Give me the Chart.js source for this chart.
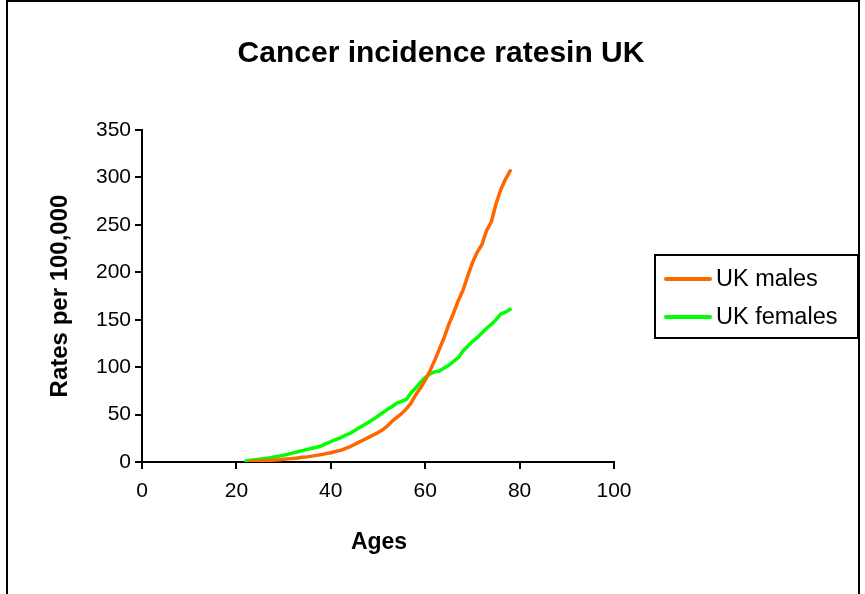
<!DOCTYPE html>
<html>
<head>
<meta charset="utf-8">
<script src="https://cdn.jsdelivr.net/npm/chart.js@4/dist/chart.umd.min.js"></script>
<style>
  html, body { margin: 0; padding: 0; background: #fff; }
  #wrap { width: 865px; height: 594px; position: relative; }
</style>
</head>
<body>
<div id="wrap"><canvas id="c" width="865" height="594"></canvas></div>
<script>
// Cancer incidence per 100,000 by single year of age
const ages = [22,23,24,25,26,27,28,29,30,31,32,33,34,35,36,37,38,39,40,41,42,43,44,45,46,47,48,49,50,
  51,52,53,54,55,56,57,58,59,60,61,62,63,64,65,66,67,68,69,70,71,72,73,74,75,76,77,78];

const ukMales = [null,0.5,0.8,1,1.3,1.6,2,2.3,2.8,3.3,3.8,4.3,4.9,5.4,6.2,7,7.8,8.8,9.8,11,12.3,14,16,18.5,21,23.5,26,28.5,31,
  34,38,43,47,51,56,62,71,78,86,96,107,119,131,145,157,170,181,196,210,221,229,244,253,272,287,298,307];

const ukFemales = [1,1.8,2.5,3,3.6,4.3,5.2,6.2,7.2,8.3,9.6,10.8,12,13.3,14.5,15.5,17,19.5,21.5,23.5,25.5,28,30,33,36,39,42,45,48.5,
  52,55.5,58.5,62,64,66,73,78,84,89,93,95,96,99,102,106,110,117,122,127,131,136,141,145,150,156,158,161];

const xTicks = [0, 20, 40, 60, 80, 100];
const yTicks = [0, 50, 100, 150, 200, 250, 300, 350];

const seriesNames = ['UK males', 'UK females'];
const seriesColors = ['#FF6600', '#00FF00'];

const chartTitle = 'Cancer incidence ratesin UK';
const xTitle = 'Ages';
const yTitle = 'Rates per 100,000';

const FONT = 'Arial, "Liberation Sans", sans-serif';

function toPoints(values) {
  return ages.map((a, i) => ({ x: a, y: values[i] }));
}

// Frame, title, axis titles and legend box
const decor = {
  id: 'decor',
  afterDraw(chart) {
    const ctx = chart.ctx;
    const area = chart.chartArea;
    ctx.save();
    // outer frame
    ctx.strokeStyle = '#000';
    ctx.lineWidth = 2;
    ctx.beginPath();
    ctx.moveTo(7, 594);
    ctx.lineTo(7, 1);
    ctx.lineTo(859, 1);
    ctx.lineTo(859, 594);
    ctx.stroke();

    ctx.fillStyle = '#000';
    ctx.textAlign = 'center';
    ctx.textBaseline = 'middle';
    ctx.font = 'bold 30px ' + FONT;
    ctx.fillText(chartTitle, 441, 54);

    ctx.font = 'bold 23px ' + FONT;
    ctx.fillText(xTitle, (area.left + area.right) / 2 + 1, 543);

    ctx.save();
    ctx.font = 'bold 24px ' + FONT;
    ctx.translate(60, (area.top + area.bottom) / 2);
    ctx.rotate(-Math.PI / 2);
    ctx.fillText(yTitle, 0, 0);
    ctx.restore();

    // legend
    ctx.lineWidth = 2;
    ctx.strokeRect(655, 255, 203, 83);
    const rows = [279, 317];
    chart.data.datasets.forEach((ds, i) => {
      ctx.strokeStyle = ds.borderColor;
      ctx.lineWidth = 4;
      ctx.lineCap = 'round';
      ctx.beginPath();
      ctx.moveTo(666, rows[i]);
      ctx.lineTo(710, rows[i]);
      ctx.stroke();
      ctx.fillStyle = '#000';
      ctx.textAlign = 'left';
      ctx.font = '23.5px ' + FONT;
      ctx.fillText(ds.label, 716, rows[i] + 1);
    });
    ctx.restore();
  }
};

new Chart(document.getElementById('c'), {
  type: 'line',
  data: {
    datasets: [
      { label: seriesNames[0], data: toPoints(ukMales), borderColor: seriesColors[0] },
      { label: seriesNames[1], data: toPoints(ukFemales), borderColor: seriesColors[1] }
    ].map(d => Object.assign(d, {
      borderWidth: 3.5,
      pointRadius: 0,
      tension: 0,
      spanGaps: false,
      borderCapStyle: 'round',
      borderJoinStyle: 'round',
      fill: false
    }))
  },
  options: {
    responsive: false,
    animation: false,
    devicePixelRatio: 1,
    layout: { padding: { top: 130, right: 251, left: 0, bottom: 0 } },
    plugins: { legend: { display: false }, title: { display: false }, tooltip: { enabled: false } },
    scales: {
      x: {
        type: 'linear',
        min: 0, max: 100,
        afterFit(s) { s.height = 132; },
        afterBuildTicks(s) { s.ticks = xTicks.map(v => ({ value: v })); },
        border: { display: true, color: '#000', width: 2 },
        grid: { display: true, drawOnChartArea: false, drawTicks: true, tickLength: 7, color: '#000', lineWidth: 2 },
        ticks: { color: '#000', font: { family: FONT, size: 21 }, padding: 10, maxRotation: 0 }
      },
      y: {
        type: 'linear',
        min: 0, max: 350,
        afterFit(s) { s.width = 142; },
        afterBuildTicks(s) { s.ticks = yTicks.map(v => ({ value: v })); },
        border: { display: true, color: '#000', width: 2 },
        grid: { display: true, drawOnChartArea: false, drawTicks: true, tickLength: 7, color: '#000', lineWidth: 2 },
        ticks: { color: '#000', font: { family: FONT, size: 21 }, padding: 4 }
      }
    }
  },
  plugins: [decor]
});
</script>
</body>
</html>
